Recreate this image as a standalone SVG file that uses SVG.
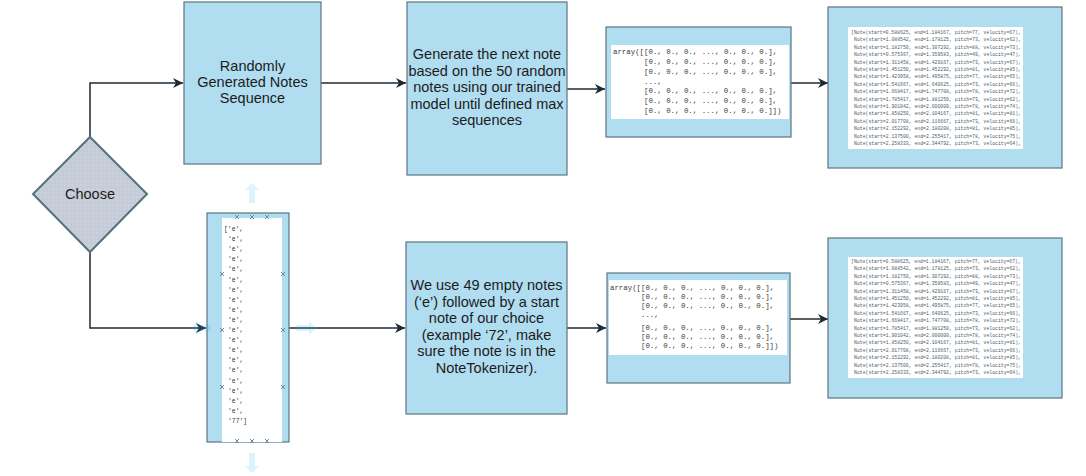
<svg xmlns="http://www.w3.org/2000/svg" width="1086" height="476" viewBox="0 0 1086 476">
<style>
.box{fill:#b1ddf0;stroke:#5c7480;stroke-width:1.2}
.inner{fill:#ffffff;stroke:none}
.lbl{font-family:"Liberation Sans",Arial,sans-serif;font-size:14.5px;fill:#1c1c1c;text-anchor:middle}
.mono{font-family:"Liberation Mono","Courier New",monospace;fill:#3a3a3a}
.arr{font-size:7.4px}
.note{font-size:4.8px;fill:#50606a}
.elist{font-size:6.4px;fill:#333}
.conn{fill:none;stroke:#1e2a33;stroke-width:1.5}
.hov{fill:#29b6f2;opacity:0.16}
.xm{stroke:#5a7f95;stroke-width:0.9;fill:none}
</style>
<defs>
<marker id="ah" markerWidth="12" markerHeight="10" refX="10" refY="5" orient="auto" markerUnits="userSpaceOnUse">
<path d="M0,0 L10,5 L0,10 L3,5 Z" fill="#1e2a33"/>
</marker>
<pattern id="dots" width="4" height="4" patternUnits="userSpaceOnUse">
<rect width="4" height="4" fill="#c6cbd8"/>
<circle cx="1" cy="1" r="0.5" fill="#e6eaf2"/>
</pattern>
</defs>

<g id="connectors">
<path class="conn" d="M90,137 L90,83 L183,83" marker-end="url(#ah)"/>
<path class="conn" d="M90,252 L90,328 L206,328" marker-end="url(#ah)"/>
<path class="conn" d="M321,83 L406,83" marker-end="url(#ah)"/>
<path class="conn" d="M567,89 L605,89" marker-end="url(#ah)"/>
<path class="conn" d="M791,83 L828,83" marker-end="url(#ah)"/>
<path class="conn" d="M289,328 L405,328" marker-end="url(#ah)"/>
<path class="conn" d="M567,328 L606,328" marker-end="url(#ah)"/>
<path class="conn" d="M790,319 L828,319" marker-end="url(#ah)"/>
</g>

<g id="choose">
<polygon points="90,137 147,194 90,252 33,194" fill="url(#dots)" stroke="#56707c" stroke-width="2"/>
<text class="lbl" x="90" y="199">Choose</text>
</g>

<g id="random-seq">
<rect class="box" x="184" y="2" width="137" height="162"/>
<text class="lbl" x="252.5" y="71">Randomly</text>
<text class="lbl" x="252.5" y="87">Generated Notes</text>
<text class="lbl" x="252.5" y="103">Sequence</text>
</g>

<g id="generate-next">
<rect class="box" x="407" y="2" width="160" height="173"/>
<text class="lbl" x="487" y="59">Generate the next note</text>
<text class="lbl" x="487" y="76">based on the 50 random</text>
<text class="lbl" x="487" y="92">notes using our trained</text>
<text class="lbl" x="487" y="109">model until defined max</text>
<text class="lbl" x="487" y="125">sequences</text>
</g>

<g id="array-top">
<rect class="box" x="606" y="27" width="185" height="110"/>
<rect class="inner" x="611" y="45" width="178" height="74"/>
<text class="mono arr" x="613" y="54">array([[0., 0., 0., ..., 0., 0., 0.],</text>
<text class="mono arr" x="644" y="64">[0., 0., 0., ..., 0., 0., 0.],</text>
<text class="mono arr" x="644" y="74">[0., 0., 0., ..., 0., 0., 0.],</text>
<text class="mono arr" x="644" y="84">...,</text>
<text class="mono arr" x="644" y="93">[0., 0., 0., ..., 0., 0., 0.],</text>
<text class="mono arr" x="644" y="103">[0., 0., 0., ..., 0., 0., 0.],</text>
<text class="mono arr" x="644" y="113">[0., 0., 0., ..., 0., 0., 0.]])</text>
</g>

<g id="notes-top">
<rect class="box" x="828" y="7" width="234" height="161"/>
<rect class="inner" x="848" y="27" width="175" height="122"/>
<g class="mono note">
<text x="851" y="34">[Note(start=0.588625, end=1.184167, pitch=77, velocity=67),</text>
<text x="854" y="41.4">Note(start=1.088542, end=1.178125, pitch=73, velocity=62),</text>
<text x="854" y="48.8">Note(start=1.182750, end=1.307292, pitch=88, velocity=73),</text>
<text x="854" y="56.2">Note(start=0.575367, end=1.359583, pitch=49, velocity=47),</text>
<text x="854" y="63.6">Note(start=1.311458, end=1.429167, pitch=73, velocity=67),</text>
<text x="854" y="71">Note(start=1.451250, end=1.452292, pitch=81, velocity=85),</text>
<text x="854" y="78.4">Note(start=1.423958, end=1.495875, pitch=77, velocity=65),</text>
<text x="854" y="85.8">Note(start=1.541667, end=1.640625, pitch=73, velocity=66),</text>
<text x="854" y="93.2">Note(start=1.668417, end=1.747708, pitch=78, velocity=72),</text>
<text x="854" y="100.6">Note(start=1.785417, end=1.881250, pitch=73, velocity=62),</text>
<text x="854" y="108">Note(start=1.901042, end=2.000000, pitch=78, velocity=74),</text>
<text x="854" y="115.4">Note(start=1.858250, end=2.104167, pitch=81, velocity=81),</text>
<text x="854" y="122.8">Note(start=2.017708, end=2.116667, pitch=73, velocity=66),</text>
<text x="854" y="130.2">Note(start=2.152292, end=2.180208, pitch=81, velocity=85),</text>
<text x="854" y="137.6">Note(start=2.137500, end=2.255417, pitch=78, velocity=75),</text>
<text x="854" y="145">Note(start=2.258333, end=2.344792, pitch=73, velocity=64),</text>
</g>
</g>

<g id="empty-notes">
<rect class="box" x="207" y="213" width="82" height="229"/>
<rect class="inner" x="222" y="218" width="60" height="224"/>
<g class="mono elist">
<text x="224" y="231">['e',</text>
<text x="228" y="241.1">'e',</text>
<text x="228" y="251.2">'e',</text>
<text x="228" y="261.3">'e',</text>
<text x="228" y="271.4">'e',</text>
<text x="228" y="281.5">'e',</text>
<text x="228" y="291.6">'e',</text>
<text x="228" y="301.7">'e',</text>
<text x="228" y="311.8">'e',</text>
<text x="228" y="321.9">'e',</text>
<text x="228" y="332">'e',</text>
<text x="228" y="342.1">'e',</text>
<text x="228" y="352.2">'e',</text>
<text x="228" y="362.3">'e',</text>
<text x="228" y="372.4">'e',</text>
<text x="228" y="382.5">'e',</text>
<text x="228" y="392.6">'e',</text>
<text x="228" y="402.7">'e',</text>
<text x="228" y="412.8">'e',</text>
<text x="228" y="423">'77']</text>
</g>
<g class="xm">
<path d="M235,215 l4,4 M239,215 l-4,4 M250,215 l4,4 M254,215 l-4,4 M265,215 l4,4 M269,215 l-4,4"/>
<path d="M235,439 l4,4 M239,439 l-4,4 M250,439 l4,4 M254,439 l-4,4 M265,439 l4,4 M269,439 l-4,4"/>
<path d="M220,272 l4,4 M224,272 l-4,4 M220,328 l4,4 M224,328 l-4,4 M220,385 l4,4 M224,385 l-4,4"/>
<path d="M281,272 l4,4 M285,272 l-4,4 M281,328 l4,4 M285,328 l-4,4 M281,385 l4,4 M285,385 l-4,4"/>
</g>
<g class="hov">
<path d="M252,183 l-7,7 h4 v13 h6 v-13 h4 z"/>
<path d="M252,473 l-7,-7 h4 v-13 h6 v13 h4 z"/>
<path d="M191,328 l7,-7 v4 h13 v6 h-13 v4 z"/>
<path d="M316,328 l-7,-7 v4 h-13 v6 h13 v4 z"/>
</g>
</g>

<g id="empty-desc">
<rect class="box" x="406" y="242" width="161" height="172"/>
<text class="lbl" x="486.5" y="290">We use 49 empty notes</text>
<text class="lbl" x="486.5" y="306.5">(‘e’) followed by a start</text>
<text class="lbl" x="486.5" y="323">note of our choice</text>
<text class="lbl" x="486.5" y="339.5">(example ‘72’, make</text>
<text class="lbl" x="486.5" y="356">sure the note is in the</text>
<text class="lbl" x="486.5" y="372.5">NoteTokenizer).</text>
</g>

<g id="array-bottom">
<rect class="box" x="607" y="273" width="183" height="110"/>
<rect class="inner" x="609" y="280" width="178" height="75"/>
<text class="mono arr" x="610" y="290">array([[0., 0., 0., ..., 0., 0., 0.],</text>
<text class="mono arr" x="641" y="299">[0., 0., 0., ..., 0., 0., 0.],</text>
<text class="mono arr" x="641" y="308">[0., 0., 0., ..., 0., 0., 0.],</text>
<text class="mono arr" x="641" y="317">...,</text>
<text class="mono arr" x="641" y="330">[0., 0., 0., ..., 0., 0., 0.],</text>
<text class="mono arr" x="641" y="339">[0., 0., 0., ..., 0., 0., 0.],</text>
<text class="mono arr" x="641" y="348">[0., 0., 0., ..., 0., 0., 0.]])</text>
</g>

<g id="notes-bottom">
<rect class="box" x="828" y="238" width="234" height="160"/>
<rect class="inner" x="848" y="257" width="175" height="121"/>
<g class="mono note">
<text x="851" y="263">[Note(start=0.588625, end=1.184167, pitch=77, velocity=67),</text>
<text x="854" y="270.4">Note(start=1.088542, end=1.178125, pitch=73, velocity=62),</text>
<text x="854" y="277.8">Note(start=1.182750, end=1.307292, pitch=88, velocity=73),</text>
<text x="854" y="285.2">Note(start=0.575367, end=1.359583, pitch=49, velocity=47),</text>
<text x="854" y="292.6">Note(start=1.311458, end=1.429167, pitch=73, velocity=67),</text>
<text x="854" y="300">Note(start=1.451250, end=1.452292, pitch=81, velocity=85),</text>
<text x="854" y="307.4">Note(start=1.423958, end=1.495875, pitch=77, velocity=65),</text>
<text x="854" y="314.8">Note(start=1.541667, end=1.640625, pitch=73, velocity=66),</text>
<text x="854" y="322.2">Note(start=1.668417, end=1.747708, pitch=78, velocity=72),</text>
<text x="854" y="329.6">Note(start=1.785417, end=1.881250, pitch=73, velocity=62),</text>
<text x="854" y="337">Note(start=1.901042, end=2.000000, pitch=78, velocity=74),</text>
<text x="854" y="344.4">Note(start=1.858250, end=2.104167, pitch=81, velocity=81),</text>
<text x="854" y="351.8">Note(start=2.017708, end=2.116667, pitch=73, velocity=66),</text>
<text x="854" y="359.2">Note(start=2.152292, end=2.180208, pitch=81, velocity=85),</text>
<text x="854" y="366.6">Note(start=2.137500, end=2.255417, pitch=78, velocity=75),</text>
<text x="854" y="374">Note(start=2.258333, end=2.344792, pitch=73, velocity=64),</text>
</g>
</g>
</svg>
